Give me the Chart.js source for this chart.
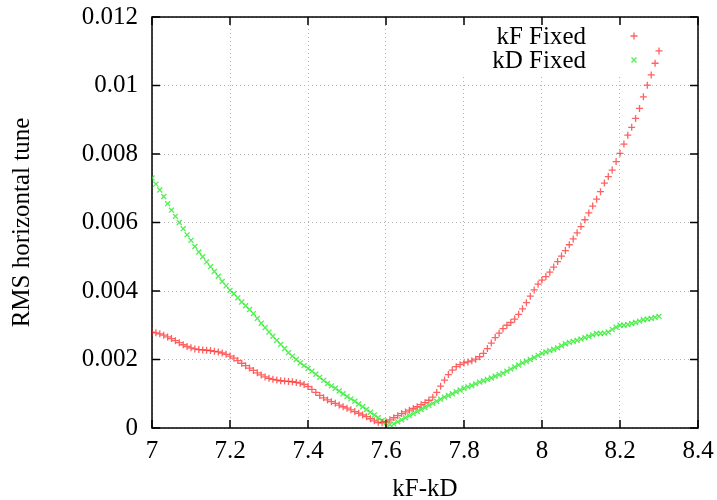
<!DOCTYPE html>
<html>
<head>
<meta charset="utf-8">
<script src="https://cdn.jsdelivr.net/npm/chart.js@4.4.1/dist/chart.umd.min.js"></script>
<style>
  html, body { margin: 0; padding: 0; background: #fff; }
  canvas { display: block; }
</style>
</head>
<body>
<canvas id="chart" width="717" height="500"></canvas>
<script>
// kF-kD values (x)
const kfMinusKd = [
    7.00, 7.01, 7.02, 7.03, 7.04, 7.05, 7.06, 7.07, 7.08, 7.09,
    7.10, 7.11, 7.12, 7.13, 7.14, 7.15, 7.16, 7.17, 7.18, 7.19,
    7.20, 7.21, 7.22, 7.23, 7.24, 7.25, 7.26, 7.27, 7.28, 7.29,
    7.30, 7.31, 7.32, 7.33, 7.34, 7.35, 7.36, 7.37, 7.38, 7.39,
    7.40, 7.41, 7.42, 7.43, 7.44, 7.45, 7.46, 7.47, 7.48, 7.49,
    7.50, 7.51, 7.52, 7.53, 7.54, 7.55, 7.56, 7.57, 7.58, 7.59,
    7.60, 7.61, 7.62, 7.63, 7.64, 7.65, 7.66, 7.67, 7.68, 7.69,
    7.70, 7.71, 7.72, 7.73, 7.74, 7.75, 7.76, 7.77, 7.78, 7.79,
    7.80, 7.81, 7.82, 7.83, 7.84, 7.85, 7.86, 7.87, 7.88, 7.89,
    7.90, 7.91, 7.92, 7.93, 7.94, 7.95, 7.96, 7.97, 7.98, 7.99,
    8.00, 8.01, 8.02, 8.03, 8.04, 8.05, 8.06, 8.07, 8.08, 8.09,
    8.10, 8.11, 8.12, 8.13, 8.14, 8.15, 8.16, 8.17, 8.18, 8.19,
    8.20, 8.21, 8.22, 8.23, 8.24, 8.25, 8.26, 8.27, 8.28, 8.29,
    8.30
];

// RMS horizontal tune, kF fixed
const kFFixed = [
    0.00280, 0.00278, 0.00275, 0.00271, 0.00266, 0.00261, 0.00255, 0.00249, 0.00243, 0.00238,
    0.00234, 0.00231, 0.00229, 0.00228, 0.00227, 0.00226, 0.00224, 0.00222, 0.00219, 0.00215,
    0.00210, 0.00204, 0.00197, 0.00189, 0.00182, 0.00175, 0.00168, 0.00161, 0.00155, 0.00149,
    0.00145, 0.00142, 0.00140, 0.00138, 0.00137, 0.00136, 0.00135, 0.00133, 0.00131, 0.00127,
    0.00121, 0.00113, 0.00104, 0.00095, 0.00088, 0.00082, 0.00077, 0.00072, 0.00067, 0.00062,
    0.00058, 0.00053, 0.00048, 0.00043, 0.00038, 0.00033, 0.00027, 0.00021, 0.00016, 0.00015,
    0.00018, 0.00024, 0.00030, 0.00036, 0.00042, 0.00047, 0.00052, 0.00057, 0.00062, 0.00068,
    0.00074, 0.00081, 0.00090, 0.00104, 0.00122, 0.00140, 0.00156, 0.00169, 0.00179, 0.00185,
    0.00190, 0.00193, 0.00196, 0.00201, 0.00208, 0.00218, 0.00232, 0.00248, 0.00264, 0.00277,
    0.00290, 0.00300, 0.00308, 0.00318, 0.00332, 0.00348, 0.00366, 0.00385, 0.00403, 0.00420,
    0.00432, 0.00442, 0.00455, 0.00470, 0.00486, 0.00502, 0.00518, 0.00535, 0.00552, 0.00570,
    0.00588, 0.00608, 0.00628, 0.00648, 0.00668, 0.00690, 0.00715, 0.00734, 0.00753, 0.00778,
    0.00802, 0.00829, 0.00855, 0.00878, 0.00904, 0.00933, 0.00967, 0.01001, 0.01031, 0.01065,
    0.01101
];

// RMS horizontal tune, kD fixed
const kDFixed = [
    0.00730, 0.00712, 0.00695, 0.00676, 0.00655, 0.00636, 0.00618, 0.00600, 0.00582, 0.00564,
    0.00548, 0.00530, 0.00514, 0.00500, 0.00485, 0.00471, 0.00457, 0.00443, 0.00428, 0.00415,
    0.00402, 0.00392, 0.00380, 0.00368, 0.00357, 0.00346, 0.00334, 0.00320, 0.00306, 0.00293,
    0.00280, 0.00268, 0.00256, 0.00244, 0.00232, 0.00220, 0.00210, 0.00200, 0.00190, 0.00182,
    0.00174, 0.00166, 0.00157, 0.00148, 0.00139, 0.00130, 0.00123, 0.00116, 0.00108, 0.00100,
    0.00092, 0.00085, 0.00078, 0.00070, 0.00062, 0.00054, 0.00046, 0.00038, 0.00030, 0.00022,
    0.00015, 0.00010, 0.00012, 0.00018, 0.00024, 0.00030, 0.00036, 0.00042, 0.00048, 0.00054,
    0.00060, 0.00066, 0.00072, 0.00078, 0.00084, 0.00090, 0.00095, 0.00100, 0.00106, 0.00111,
    0.00116, 0.00120, 0.00124, 0.00129, 0.00134, 0.00138, 0.00142, 0.00146, 0.00151, 0.00156,
    0.00160, 0.00166, 0.00172, 0.00178, 0.00184, 0.00190, 0.00195, 0.00200, 0.00206, 0.00212,
    0.00218, 0.00222, 0.00226, 0.00230, 0.00234, 0.00240, 0.00246, 0.00250, 0.00253, 0.00256,
    0.00260, 0.00264, 0.00267, 0.00272, 0.00276, 0.00276, 0.00277, 0.00280, 0.00288, 0.00294,
    0.00300, 0.00300, 0.00302, 0.00305, 0.00308, 0.00312, 0.00316, 0.00318, 0.00320, 0.00323,
    0.00326
];

const seriesLabels = ['kF Fixed', 'kD Fixed'];
const seriesColors = ['rgba(255, 30, 30, 0.7)', 'rgba(20, 235, 20, 0.75)'];
const seriesMarkers = ['cross', 'crossRot'];

const serif = "'Liberation Serif', 'Times New Roman', 'DejaVu Serif', serif";
const fontSize = 25;

/**
 * Paints the gnuplot style key (text left, marker right) over an opaque box.
 */
const gnuplotKey = {
    id: 'gnuplotKey',
    beforeDatasetsDraw(chart) {
        const {ctx, chartArea} = chart;
        ctx.save();
        ctx.fillStyle = '#ffffff';
        ctx.fillRect(440, chartArea.top + 1, 222, 56);

        ctx.font = fontSize + 'px ' + serif;
        ctx.textAlign = 'right';
        ctx.textBaseline = 'middle';

        chart.data.datasets.forEach((ds, i) => {
            const y = 37 + i * 24;
            ctx.fillStyle = '#000000';
            ctx.fillText(ds.label, 586, y);
            ctx.strokeStyle = ds.borderColor;
            ctx.lineWidth = ds.borderWidth;
            Chart.helpers.drawPoint(ctx, {
                pointStyle: ds.pointStyle,
                radius: ds.pointRadius,
                borderWidth: ds.borderWidth,
                rotation: 0
            }, 634, y - 1);
        });
        ctx.restore();
    }
};

/**
 * Draws the closed frame with inward ticks on all four sides.
 */
const gnuplotFrame = {
    id: 'gnuplotFrame',
    beforeDatasetsDraw(chart) {
        const {ctx, chartArea: a, scales: {x, y}} = chart;
        const len = 8;
        ctx.save();
        ctx.strokeStyle = '#000000';
        ctx.lineWidth = 1.5;
        ctx.beginPath();
        x.ticks.forEach(t => {
            const px = x.getPixelForValue(t.value);
            ctx.moveTo(px, a.bottom);
            ctx.lineTo(px, a.bottom - len);
            ctx.moveTo(px, a.top);
            ctx.lineTo(px, a.top + len);
        });
        y.ticks.forEach(t => {
            const py = y.getPixelForValue(t.value);
            ctx.moveTo(a.left, py);
            ctx.lineTo(a.left + len, py);
            ctx.moveTo(a.right, py);
            ctx.lineTo(a.right - len, py);
        });
        ctx.stroke();
        ctx.strokeRect(a.left, a.top, a.right - a.left, a.bottom - a.top);
        ctx.restore();
    }
};

const datasets = [kFFixed, kDFixed].map((values, i) => ({
    label: seriesLabels[i],
    data: values.map((v, j) => ({x: kfMinusKd[j], y: v})),
    pointStyle: seriesMarkers[i],
    pointRadius: 3.5,
    pointHoverRadius: 3.5,
    borderWidth: 1.3,
    borderColor: seriesColors[i],
    backgroundColor: seriesColors[i],
    showLine: false
}));

const axisGrid = {
    color: '#b4b4b4',
    lineWidth: 1,
    drawTicks: false
};

new Chart(document.getElementById('chart'), {
    type: 'scatter',
    data: {datasets},
    options: {
        responsive: false,
        animation: false,
        devicePixelRatio: 1,
        layout: {padding: {top: 17, right: 19, left: 0, bottom: 0}},
        plugins: {
            legend: {display: false},
            tooltip: {enabled: false}
        },
        scales: {
            x: {
                type: 'linear',
                min: 7,
                max: 8.4,
                grid: axisGrid,
                border: {display: false, dash: [1, 3]},
                ticks: {
                    stepSize: 0.2,
                    padding: 8,
                    color: '#000',
                    font: {family: serif, size: fontSize},
                    maxRotation: 0,
                    callback: v => String(Number(v.toFixed(1)))
                },
                title: {
                    display: true,
                    text: 'kF-kD',
                    color: '#000',
                    font: {family: serif, size: fontSize},
                    padding: {top: 0, bottom: -4}
                },
                afterFit(scale) {
                    scale.height = 72;
                    scale.paddingLeft = 0;
                    scale.paddingRight = 0;
                }
            },
            y: {
                type: 'linear',
                min: 0,
                max: 0.012,
                grid: axisGrid,
                border: {display: false, dash: [1, 3]},
                ticks: {
                    stepSize: 0.002,
                    padding: 14,
                    color: '#000',
                    font: {family: serif, size: fontSize},
                    callback: v => String(Number(v.toFixed(3)))
                },
                title: {
                    display: true,
                    text: 'RMS horizontal tune',
                    color: '#000',
                    font: {family: serif, size: fontSize},
                    padding: {top: 7, bottom: 0}
                },
                afterFit(scale) {
                    scale.width = 152;
                    scale.paddingTop = 0;
                    scale.paddingBottom = 0;
                }
            }
        }
    },
    plugins: [gnuplotKey, gnuplotFrame]
});
</script>
</body>
</html>
